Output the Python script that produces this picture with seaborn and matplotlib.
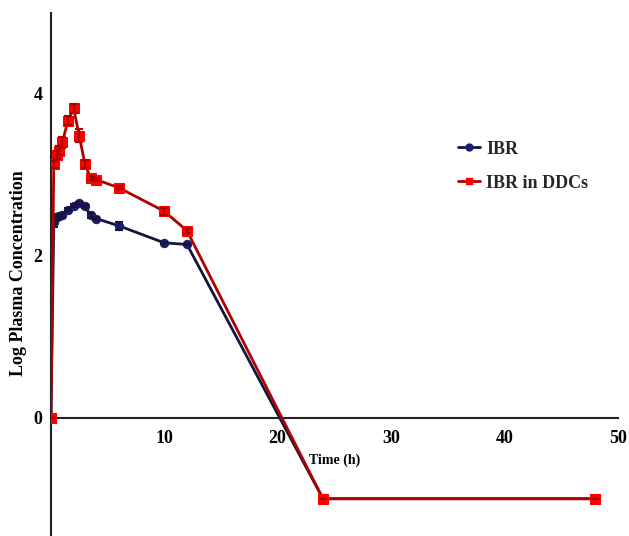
import matplotlib
matplotlib.use("Agg")
import matplotlib.pyplot as plt
import seaborn as sns
import pandas as pd
import numpy as np
from matplotlib.lines import Line2D

time_h = [0, 0.25, 0.5, 0.75, 1, 1.5, 2, 2.5, 3, 3.5, 4, 6, 10, 12, 24, 48]
ibr = [0, 2.42, 2.48, 2.49, 2.50, 2.57, 2.62, 2.65, 2.61, 2.50, 2.46, 2.37, 2.16, 2.14, -1, -1]
ibr_err = [0, 0.06, 0.04, 0.03, 0.03, 0.02, 0.02, 0.02, 0.02, 0.03, 0.02, 0.05, 0.01, 0.01, 0, 0]
ibr_ddc = [0, 3.13, 3.24, 3.30, 3.40, 3.67, 3.82, 3.48, 3.13, 2.96, 2.94, 2.84, 2.55, 2.31, -1, -1]
ibr_ddc_err = [0, 0.04, 0.05, 0.05, 0.07, 0.06, 0.06, 0.08, 0.05, 0.03, 0.02, 0.02, 0.04, 0.03, 0, 0]
series_names = ["IBR", "IBR in DDCs"]
x_ticks = [10, 20, 30, 40, 50]
y_ticks = [0, 2, 4]

sns.set_theme(style="white")
plt.rcParams["font.family"] = ["Liberation Serif", "DejaVu Serif"]
plt.rcParams["font.weight"] = "bold"

df = pd.DataFrame({
    "Time": time_h * 2,
    "Value": ibr + ibr_ddc,
    "Err": ibr_err + ibr_ddc_err,
    "Series": [series_names[0]] * len(time_h) + [series_names[1]] * len(time_h),
})

fig = plt.figure(figsize=(6.29, 5.36), dpi=100)
ax = fig.add_axes([0.081, 0.0, 0.901, 0.976])

line_cols = {series_names[0]: "#14143c", series_names[1]: "#b00000"}
mark_cols = {series_names[0]: "#1c1c70", series_names[1]: "#ff0000"}
markers = {series_names[0]: "o", series_names[1]: "s"}
msizes = {series_names[0]: 6, series_names[1]: 7}

for i, name in enumerate(series_names):
    sub = df[df["Series"] == name]
    sns.lineplot(data=sub, x="Time", y="Value", ax=ax, color=line_cols[name],
                 linewidth=2, marker=markers[name], markersize=msizes[name],
                 markerfacecolor=mark_cols[name], markeredgecolor=mark_cols[name],
                 label=name, zorder=3 + i, legend=False)
    ax.errorbar(sub["Time"], sub["Value"], yerr=sub["Err"], fmt="none",
                ecolor=line_cols[name], elinewidth=1.5, capsize=3, capthick=1.5,
                zorder=3 + i)

for s in ["top", "right"]:
    ax.spines[s].set_visible(False)
ax.spines["bottom"].set_position(("data", 0))
ax.spines["left"].set_position(("data", 0))
for s in ["bottom", "left"]:
    ax.spines[s].set_color("#222222")
    ax.spines[s].set_linewidth(1.5)

ax.set_xlim(0, 50)
ax.set_ylim(-1.46, 5.0)
ax.set_xticks(x_ticks)
ax.set_yticks(y_ticks)
ax.set_xticklabels([str(t) for t in x_ticks])
ax.set_yticklabels([str(t) for t in y_ticks])
ax.tick_params(axis="both", direction="out", length=4, width=1.2, color="#222222",
               pad=2, labelsize=13, labelcolor="black")
ax.tick_params(axis="x", pad=5)
for lab in ax.get_xticklabels() + ax.get_yticklabels():
    lab.set_fontweight("bold")

ax.set_xlabel("")
ax.set_ylabel("Log Plasma Concentration", fontsize=13, fontweight="bold", color="black")
ax.yaxis.set_label_coords(-0.042, 0.503)
ax.text(25, -0.52, "Time (h)", fontsize=10, fontweight="bold", ha="center", va="center",
        color="black")

handles = [Line2D([0], [0], color=line_cols[n], marker=markers[n], markersize=5,
                  markerfacecolor=mark_cols[n], markeredgecolor=mark_cols[n], linewidth=2)
           for n in series_names]
leg = ax.legend(handles, series_names, loc="upper left", bbox_to_anchor=(0.69, 0.787),
                frameon=False, handlelength=1.2, handletextpad=0.35,
                labelspacing=0.95, prop={"weight": "bold", "size": 13})

fig.savefig("out.png", dpi=100)
